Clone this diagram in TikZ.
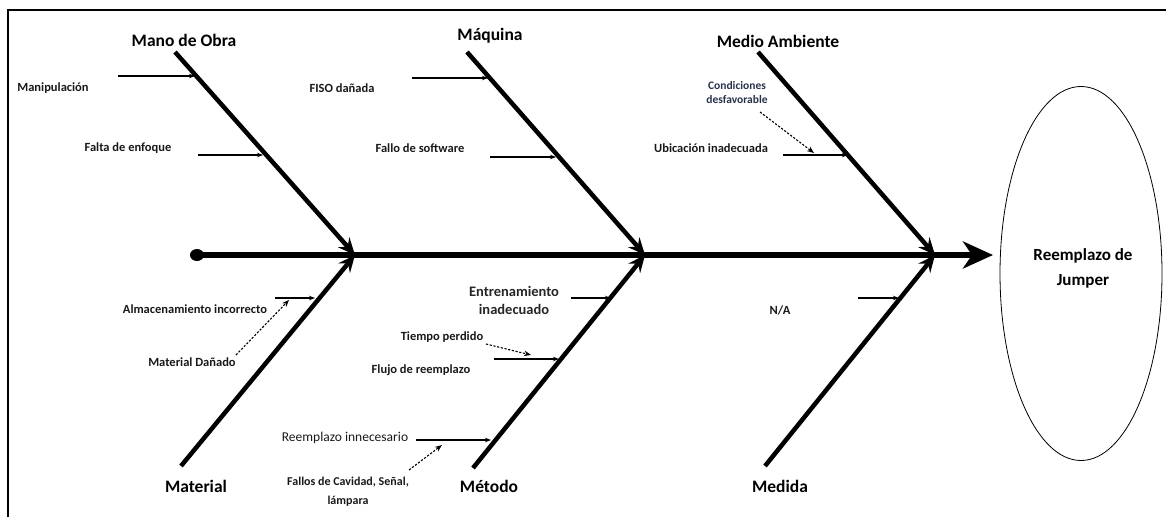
\documentclass[tikz,border=0pt]{standalone}
\usepackage{fontspec}
\setmainfont{Carlito}
\usetikzlibrary{arrows.meta,shapes.geometric}
\begin{document}
\begin{tikzpicture}[x=1pt,y=-1pt,
  spine/.style={line width=6pt,-{Stealth[length=30pt,width=27pt,inset=9pt]}},
  bone/.style={line width=4.5pt,-{Stealth[length=17pt,width=15pt,inset=6pt]}},
  cause/.style={line width=1.4pt,-{Stealth[length=6pt,width=4.5pt]}},
  link/.style={line width=1.1pt,dash pattern=on 2.2pt off 1.6pt,-{Stealth[length=7pt,width=5.5pt]}},
  head/.style={inner sep=0pt,font=\fontsize{17.5}{20}\selectfont\bfseries},
  lbl/.style={inner sep=0pt,font=\fontsize{12.5}{15}\selectfont\bfseries,text=black!90},
  small/.style={inner sep=0pt,align=center,font=\fontsize{11.5}{14}\selectfont\bfseries,text={rgb,255:red,40;green,50;blue,75}},
]
\useasboundingbox (0,0) rectangle (1166,517);
% frame
\draw[line width=2.5pt] (8,517) -- (8,10) -- (1166,10);

% effect
\node[draw,ellipse,line width=0.8pt,minimum width=162pt,minimum height=374pt,inner sep=0pt] (effect) at (1081,273.5) {};
\node[inner sep=0pt,align=center,font=\fontsize{17}{25}\selectfont\bfseries] (effecttxt) at (1083,268.5) {Reemplazo de\\Jumper};

% spine
\node[fill,ellipse,minimum width=14pt,minimum height=12pt,inner sep=0pt] (tail) at (197,255) {};
\coordinate (tip) at (993,255);
\draw[spine] (tail.center) -- (tip);

% joints on the spine
\coordinate (j1) at (355,255);
\coordinate (j2) at (645,255);
\coordinate (j3) at (935,255);

% category labels
\node[head] (mano) at (184,40) {Mano de Obra};
\node[head] (maq) at (490,36) {Máquina};
\node[head] (medio) at (778,41) {Medio Ambiente};
\node[head] (mat) at (196,486) {Material};
\node[head] (met) at (489,486) {Método};
\node[head] (medida) at (780,486) {Medida};

% bone starts
\coordinate (b1) at (175,52);
\coordinate (b2) at (467,52);
\coordinate (b3) at (758,52);
\coordinate (b4) at (181,466);
\coordinate (b5) at (473,468);
\coordinate (b6) at (765,466);

\draw[bone] (b1) -- (j1);
\draw[bone] (b2) -- (j2);
\draw[bone] (b3) -- (j3);
\draw[bone] (b4) -- (j1);
\draw[bone] (b5) -- (j2);
\draw[bone] (b6) -- (j3);

% --- Mano de Obra
\coordinate (c1s) at (118,76);  \coordinate (c1e) at (195,76);
\coordinate (c2s) at (198,155); \coordinate (c2e) at (263,155);
\draw[cause] (c1s) -- (c1e);
\draw[cause] (c2s) -- (c2e);
\node[lbl] (manip) at (53,88) {Manipulación};
\node[lbl] (falta) at (128,148) {Falta de enfoque};

% --- Máquina
\coordinate (c3s) at (412,78);  \coordinate (c3e) at (488,78);
\coordinate (c4s) at (490,157); \coordinate (c4e) at (556,157);
\draw[cause] (c3s) -- (c3e);
\draw[cause] (c4s) -- (c4e);
\node[lbl] (fiso) at (342,88) {FISO dañada};
\node[lbl] (soft) at (420,148) {Fallo de software};

% --- Medio Ambiente
\coordinate (c5s) at (783,155); \coordinate (c5e) at (848,155);
\draw[cause] (c5s) -- (c5e);
\node[lbl] (ubic) at (711,148) {Ubicación inadecuada};
\node[small] (cond) at (737,93) {Condiciones\\desfavorable};
\coordinate (d1s) at (760,112); \coordinate (d1e) at (814,153);
\draw[link] (d1s) -- (d1e);

% --- Material
\coordinate (c6s) at (275,298); \coordinate (c6e) at (315,298);
\draw[cause] (c6s) -- (c6e);
\node[lbl] (alm) at (195,309) {Almacenamiento incorrecto};
\node[lbl] (dan) at (192,362) {Material Dañado};
\coordinate (d2s) at (236,355); \coordinate (d2e) at (289,300);
\draw[link] (d2s) -- (d2e);

% --- Método
\coordinate (c7s) at (571,298); \coordinate (c7e) at (611,298);
\coordinate (c8s) at (494,359); \coordinate (c8e) at (559,359);
\coordinate (c9s) at (416,440); \coordinate (c9e) at (491,440);
\draw[cause] (c7s) -- (c7e);
\draw[cause] (c8s) -- (c8e);
\draw[cause] (c9s) -- (c9e);
\node[inner sep=0pt,align=center,font=\fontsize{14.5}{18}\selectfont\bfseries,text=black!85] (entr) at (514,300.5) {Entrenamiento\\inadecuado};
\node[lbl] (tiempo) at (442,337) {Tiempo perdido};
\node[lbl] (flujo) at (421,370) {Flujo de reemplazo};
\coordinate (d3s) at (486,344); \coordinate (d3e) at (531,355);
\draw[link] (d3s) -- (d3e);
\node[inner sep=0pt,font=\fontsize{13.5}{16}\selectfont,text=black!90] (innec) at (345,438) {Reemplazo innecesario};
\node[lbl,align=center,font=\fontsize{12}{19}\selectfont\bfseries] (fallos) at (348,491.5) {Fallos de Cavidad, Señal,\\lámpara};
\coordinate (d4s) at (409,470); \coordinate (d4e) at (442,445);
\draw[link] (d4s) -- (d4e);

% --- Medida
\coordinate (c10s) at (858,298); \coordinate (c10e) at (899,298);
\draw[cause] (c10s) -- (c10e);
\node[lbl] (na) at (780,310) {N/A};
\end{tikzpicture}
\end{document}
